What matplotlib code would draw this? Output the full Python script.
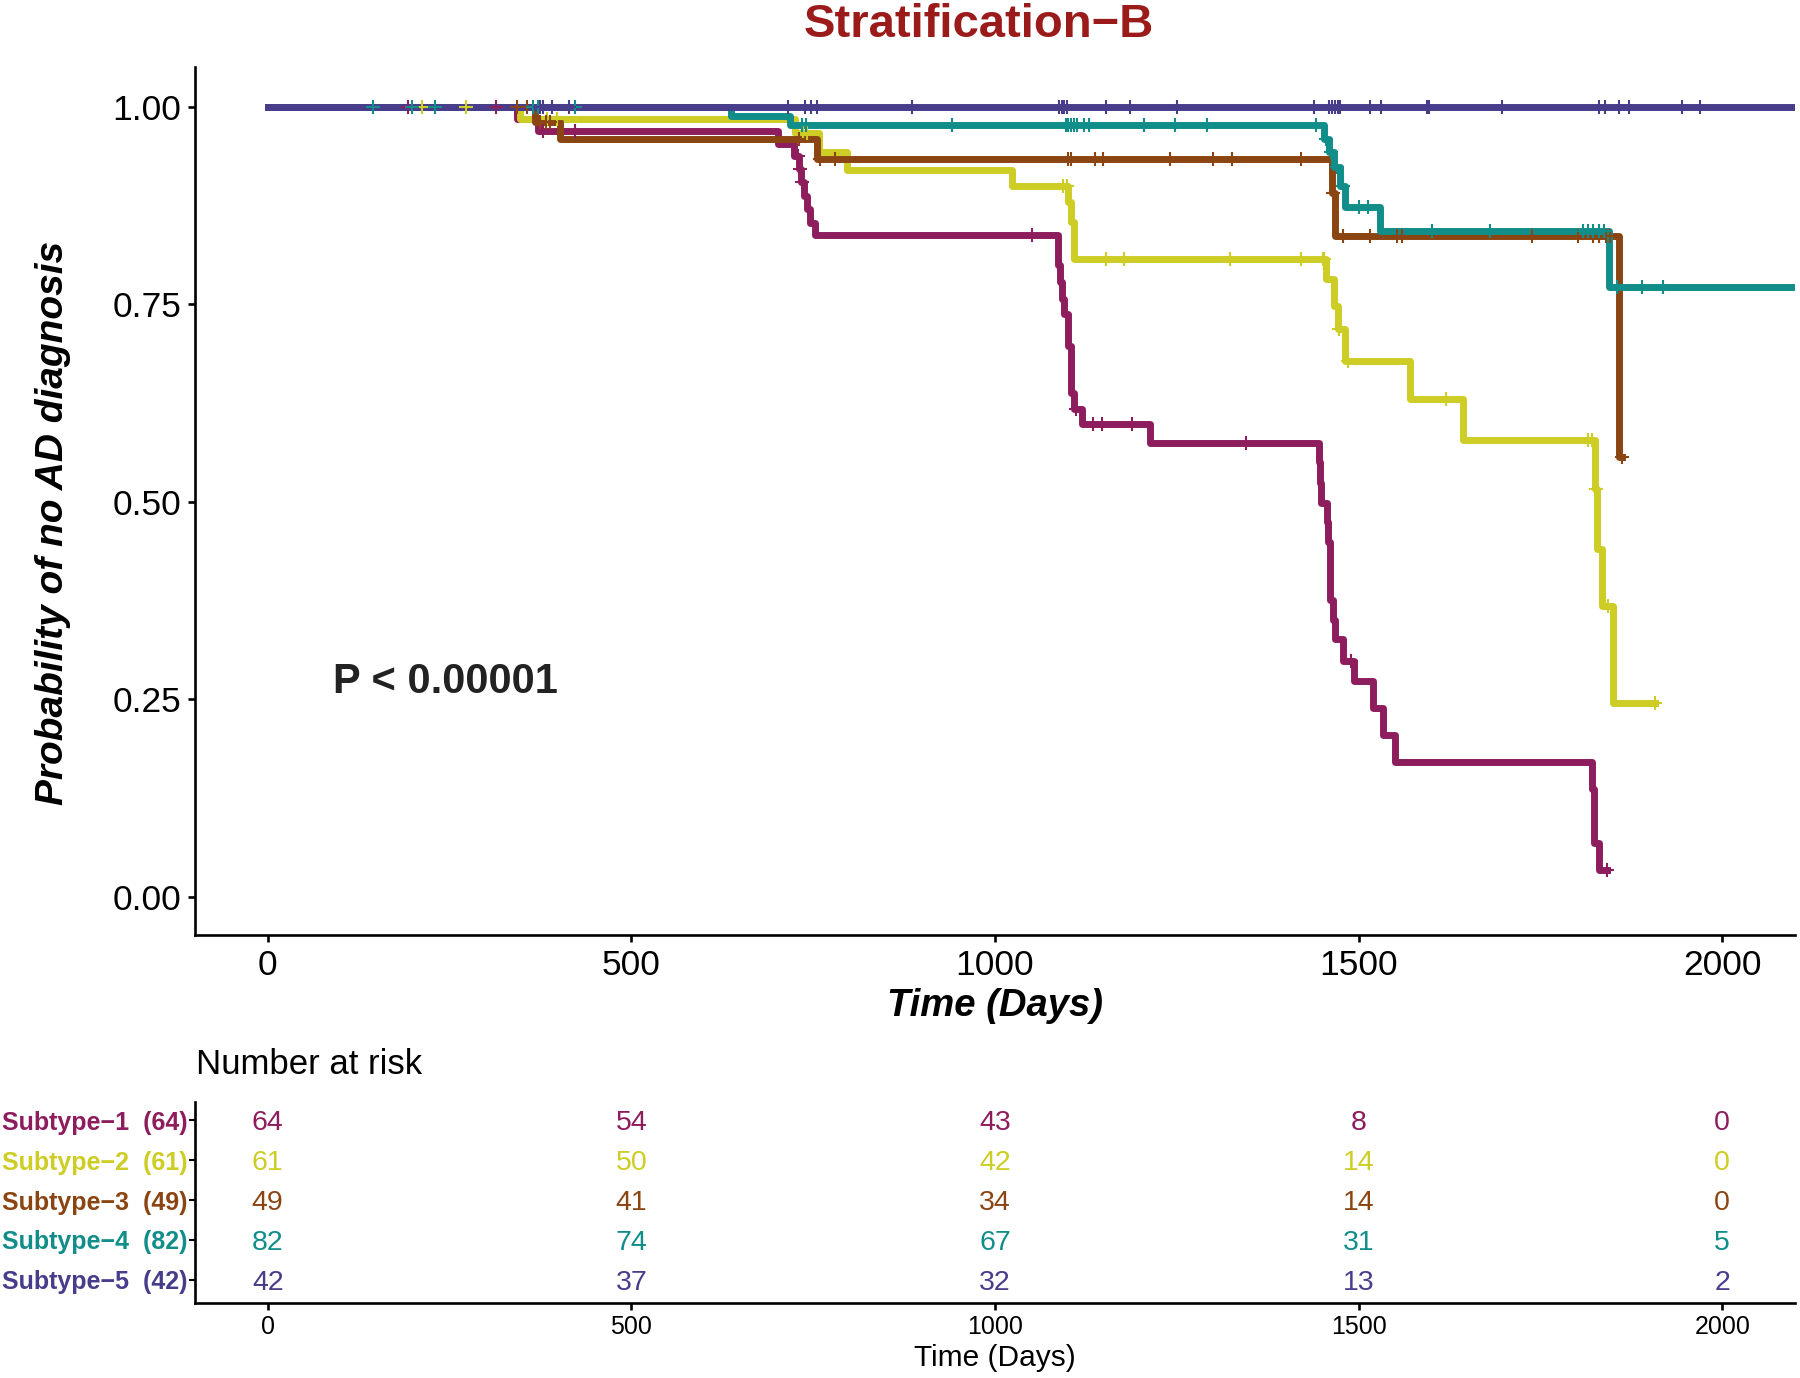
import numpy as np
import matplotlib.pyplot as plt

plt.rcParams['font.family'] = ['Liberation Sans', 'DejaVu Sans']

# Groups and colours
groups = ["Subtype\u22121", "Subtype\u22122", "Subtype\u22123", "Subtype\u22124", "Subtype\u22125"]
colors = ["#8E1D5E", "#CDCD25", "#8B4513", "#128E8A", "#483D8B"]

# Kaplan-Meier steps: day of event, survival after it
s1_time = [0, 343, 372, 702, 723, 730, 733, 737, 741, 745, 752, 1087, 1089, 1092, 1095, 1100, 1104, 1108,
           1119, 1213, 1446, 1447, 1448, 1456, 1458, 1461, 1465, 1467, 1479, 1493, 1520, 1534, 1550,
           1821, 1823, 1824, 1831]
s1_surv = [1.0, 0.984, 0.969, 0.953, 0.937, 0.921, 0.904, 0.887, 0.870, 0.853, 0.837, 0.800, 0.778, 0.757,
           0.738, 0.697, 0.638, 0.617, 0.598, 0.575, 0.550, 0.524, 0.499, 0.474, 0.449, 0.376, 0.351,
           0.326, 0.298, 0.273, 0.239, 0.205, 0.171, 0.137, 0.103, 0.068, 0.034]
s1_end = 1842
s1_cens = [193, 314, 378, 423, 729, 732, 735, 1051, 1112, 1135, 1147, 1188, 1345, 1490, 1842]

s2_time = [0, 347, 725, 758, 796, 1023, 1101, 1104, 1109, 1455, 1466, 1472, 1481, 1571, 1644,
           1825, 1828, 1835, 1850]
s2_surv = [1.0, 0.984, 0.967, 0.942, 0.920, 0.899, 0.879, 0.854, 0.807, 0.782, 0.748, 0.719, 0.678,
           0.630, 0.578, 0.516, 0.440, 0.368, 0.245]
s2_end = 1908
s2_cens = [212, 273, 384, 398, 736, 741, 1094, 1099, 1153, 1178, 1323, 1421, 1451, 1453, 1473, 1486,
           1620, 1816, 1821, 1827, 1843, 1908]

s3_time = [0, 368, 402, 755, 1463, 1467, 1858]
s3_surv = [1.0, 0.980, 0.959, 0.933, 0.890, 0.836, 0.557]
s3_end = 1862
s3_cens = [343, 356, 375, 382, 388, 730, 760, 780, 1100, 1104, 1138, 1148, 1240, 1300, 1326, 1421,
           1465, 1478, 1516, 1553, 1560, 1738, 1802, 1822, 1830, 1840, 1846, 1862]

s4_time = [0, 637, 718, 1452, 1459, 1466, 1474, 1481, 1530, 1844]
s4_surv = [1.0, 0.988, 0.976, 0.959, 0.942, 0.924, 0.900, 0.873, 0.842, 0.772]
s4_end = 2110
s4_cens = [145, 198, 230, 365, 372, 423, 735, 740, 941, 1097, 1101, 1105, 1109, 1113, 1122, 1129,
           1205, 1248, 1291, 1441, 1455, 1462, 1470, 1478, 1500, 1513, 1601, 1681, 1809, 1815, 1822,
           1830, 1838, 1855, 1889, 1918]

s5_time = [0]
s5_surv = [1.0]
s5_end = 2110
s5_cens = [374, 379, 391, 414, 716, 739, 747, 755, 886, 1088, 1092, 1095, 1099, 1152, 1185, 1250,
           1438, 1459, 1463, 1467, 1471, 1475, 1516, 1531, 1594, 1597, 1697, 1831, 1839, 1858, 1872,
           1945, 1970]

# Number at risk table
risk_times = [0, 500, 1000, 1500, 2000]
risk_1 = [64, 54, 43, 8, 0]
risk_2 = [61, 50, 42, 14, 0]
risk_3 = [49, 41, 34, 14, 0]
risk_4 = [82, 74, 67, 31, 5]
risk_5 = [42, 37, 32, 13, 2]
totals = [64, 61, 49, 82, 42]

curves = [
    (s1_time, s1_surv, s1_end, s1_cens),
    (s2_time, s2_surv, s2_end, s2_cens),
    (s3_time, s3_surv, s3_end, s3_cens),
    (s4_time, s4_surv, s4_end, s4_cens),
    (s5_time, s5_surv, s5_end, s5_cens),
]
risks = [risk_1, risk_2, risk_3, risk_4, risk_5]

W, H = 1800, 1378
fig = plt.figure(figsize=(W / 100, H / 100), dpi=100)

# ---- survival curves ----
ax = fig.add_axes([195 / W, 1 - 935 / H, 1600 / W, 868 / H])
for (t, s, end, cens), col in zip(curves, colors):
    x = list(t) + [end]
    y = list(s) + [s[-1]]
    ax.step(x, y, where='post', color=col, lw=5, solid_joinstyle='round', zorder=2)
for (t, s, end, cens), col in zip(curves, colors):
    idx = np.searchsorted(t, cens, side='right') - 1
    ax.plot(cens, np.asarray(s)[idx], ls='none', marker='+', ms=10.5, mew=1.5, color=col, zorder=3)

ax.set_xlim(-100, 2100)
ax.set_ylim(-0.048, 1.05)
ax.set_xticks([0, 500, 1000, 1500, 2000])
ax.set_yticks([0, 0.25, 0.5, 0.75, 1.0])
ax.set_yticklabels(["0.00", "0.25", "0.50", "0.75", "1.00"])
for side in ['top', 'right']:
    ax.spines[side].set_visible(False)
for side in ['left', 'bottom']:
    ax.spines[side].set_linewidth(1.9)
ax.tick_params(labelsize=25.5, width=1.9, length=5, pad=5)

ax.set_xlabel("Time (Days)", fontsize=27.5, fontweight='bold', fontstyle='italic')
ax.xaxis.set_label_coords(0.5, -0.082)
ax.xaxis.label.set_va('center')
ax.set_ylabel("Probability of no AD diagnosis", fontsize=28, fontweight='bold', fontstyle='italic')
ax.yaxis.set_label_coords(-0.089, 0.475)
ax.yaxis.label.set_va('center')

ax.text(245, 0.2725, "P < 0.00001", fontsize=30, fontweight='bold', ha='center', va='center',
        color='#222222')

fig.text(979 / W, 1 - 25 / H, "Stratification\u2212B", ha='center', va='center',
         fontsize=34, fontweight='bold', color='#9B1B1B')

# ---- risk table ----
ax2 = fig.add_axes([195 / W, 1 - 1303 / H, 1600 / W, 201 / H])
rows = [5, 4, 3, 2, 1]
for r, vals, col in zip(rows, risks, colors):
    for tx, v in zip(risk_times, vals):
        ax2.text(tx, r, str(v), ha='center', va='center_baseline', fontsize=20.5, color=col)
ax2.set_xlim(-100, 2100)
ax2.set_ylim(0.42, 5.46)
ax2.set_xticks(risk_times)
ax2.set_yticks(rows)
ax2.set_yticklabels([f"{g}  ({n})" for g, n in zip(groups, totals)], fontweight='bold')
for lab, col in zip(ax2.get_yticklabels(), colors):
    lab.set_color(col)
for side in ['top', 'right']:
    ax2.spines[side].set_visible(False)
for side in ['left', 'bottom']:
    ax2.spines[side].set_linewidth(1.9)
ax2.tick_params(axis='y', labelsize=18, width=1.5, length=4, pad=1.5)
ax2.tick_params(axis='x', labelsize=18, width=1.9, length=5, pad=4)
ax2.set_xlabel("Time (Days)", fontsize=21.5)
ax2.xaxis.set_label_coords(0.5, -0.274)
ax2.xaxis.label.set_va('center')

fig.text(196 / W, 1 - 1065 / H, "Number at risk", ha='left', va='center', fontsize=25)

fig.savefig("out.png", dpi=100)
